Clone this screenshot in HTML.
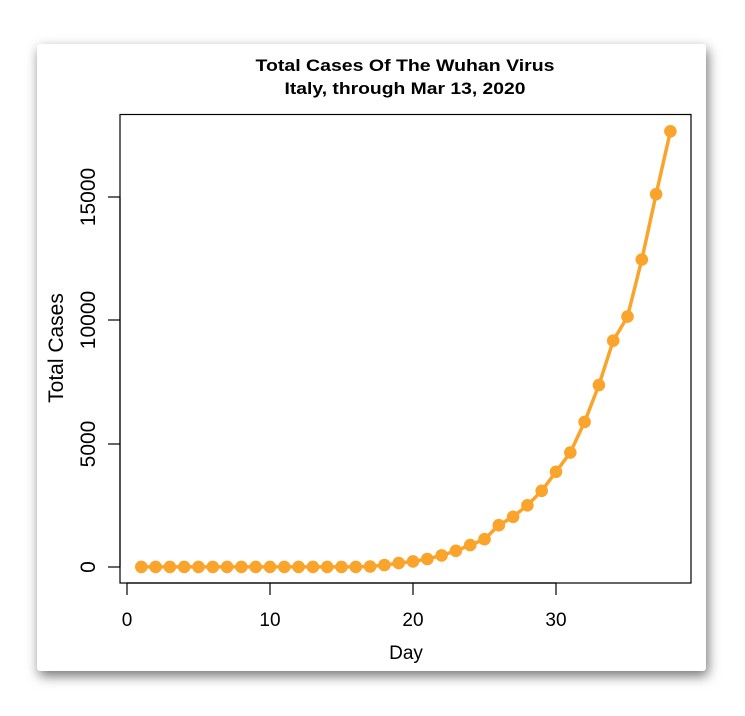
<!DOCTYPE html>
<html><head><style>
body{margin:0;background:#fff;width:745px;height:716px;overflow:hidden;font-family:"Liberation Sans",sans-serif}
.card{position:absolute;left:37px;top:44px;width:669px;height:627px;background:#fff;border-radius:3px;box-shadow:2px 5px 12px rgba(0,0,0,0.55)}
</style></head><body>
<div class="card"></div>
<svg width="745" height="716" style="position:absolute;left:0;top:0" font-family="Liberation Sans, sans-serif">
<text x="405" y="71" text-anchor="middle" font-size="17" font-weight="bold" textLength="299" lengthAdjust="spacingAndGlyphs">Total Cases Of The Wuhan Virus</text>
<text x="405" y="94" text-anchor="middle" font-size="17" font-weight="bold" textLength="241" lengthAdjust="spacingAndGlyphs">Italy, through Mar 13, 2020</text>
<rect x="120" y="114.5" width="571" height="468.5" fill="none" stroke="#000" stroke-width="1.2"/>
<g stroke="#000" stroke-width="1.2">
<line x1="127" y1="583" x2="556" y2="583"/>
<line x1="127" y1="583" x2="127" y2="595"/><line x1="270" y1="583" x2="270" y2="595"/><line x1="413" y1="583" x2="413" y2="595"/><line x1="556" y1="583" x2="556" y2="595"/>
<line x1="120" y1="567" x2="120" y2="197"/>
<line x1="108" y1="567" x2="120" y2="567"/><line x1="108" y1="444" x2="120" y2="444"/><line x1="108" y1="320" x2="120" y2="320"/><line x1="108" y1="197" x2="120" y2="197"/>
</g>
<g font-size="19" text-anchor="middle">
<text x="127" y="626">0</text><text x="270" y="626">10</text><text x="413" y="626">20</text><text x="556" y="626">30</text>
<text x="406" y="659">Day</text>
</g>
<g font-size="21" text-anchor="middle">
<text transform="translate(95,567) rotate(-90)">0</text>
<text transform="translate(95,444) rotate(-90)">5000</text>
<text transform="translate(95,320) rotate(-90)">10000</text>
<text transform="translate(95,197) rotate(-90)">15000</text>
<text transform="translate(63,348) rotate(-90)">Total Cases</text>
</g>
<g id="s"></g>
</svg>
<script>
var d=[3,3,3,3,3,3,3,3,3,3,3,3,3,3,3,3,20,79,157,229,323,470,655,889,1128,1694,2036,2502,3089,3858,4636,5883,7375,9172,10149,12462,15113,17660];
var g=document.getElementById('s'),pts=[],h='';
d.forEach(function(v,i){var x=127+(i+1)*14.3,y=567-v*0.02467;pts.push(x.toFixed(1)+','+y.toFixed(1));h+='<circle cx="'+x.toFixed(1)+'" cy="'+y.toFixed(1)+'" r="6.3" fill="#FAA42B"/>';});
g.innerHTML='<polyline points="'+pts.join(' ')+'" fill="none" stroke="#FAA42B" stroke-width="3.5"/>'+h;
</script>
</body></html>
